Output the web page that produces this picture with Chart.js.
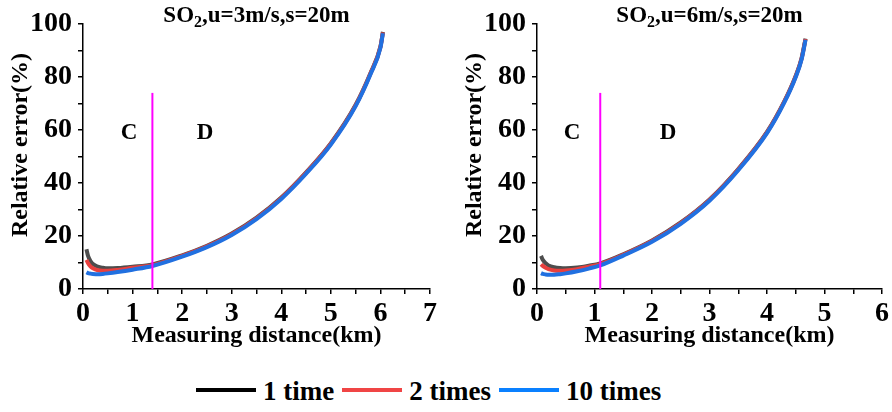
<!DOCTYPE html>
<html>
<head>
<meta charset="utf-8">
<script src="https://cdn.jsdelivr.net/npm/chart.js@4"></script>
<style>
  html, body { margin: 0; padding: 0; background: #fff; }
  body { width: 892px; height: 412px; position: relative; overflow: hidden;
         font-family: "Liberation Serif", "DejaVu Serif", "Noto Serif", serif; }
  .panel { position: absolute; top: 0; width: 446px; height: 350px; }
  #legend { position: absolute; left: 196px; top: 378px; display: flex; align-items: center;
            font-weight: bold; font-size: 27px; line-height: 27px; white-space: nowrap; color: #000; }
  .sw { display: inline-block; width: 60px; height: 4px; transform: translateY(-2px); }
  .lbl { margin: 0 8px 0 7px; }
</style>
</head>
<body>
<div class="panel" style="left:0"><canvas id="leftChart" width="446" height="350"></canvas></div>
<div class="panel" style="left:446px"><canvas id="rightChart" width="446" height="350"></canvas></div>
<div id="legend">
  <span class="sw" style="background:#000"></span><span class="lbl">1 time</span>
  <span class="sw" style="background:#f04545"></span><span class="lbl">2 times</span>
  <span class="sw" style="background:#0a80ff"></span><span class="lbl">10 times</span>
</div>
<script>
// ---- u = 3 m/s ----
const distLeft = [0.07, 0.1, 0.15, 0.2, 0.3, 0.4, 0.5, 0.7, 1.0, 1.4, 2.0, 2.5, 3.0, 3.5, 4.0, 4.5, 5.0, 5.5, 5.8, 6.0, 6.05];
const oneLeft  = [15.0, 12.6, 10.6, 9.4, 8.4, 8.0, 7.8, 7.9, 8.4, 9.3, 12.7, 16.3, 20.9, 26.9, 34.5, 44.0, 55.0, 69.5, 81.5, 91.5, 97.0];
const twoLeft  = [11.0, 9.8, 8.5, 7.8, 7.1, 6.9, 6.9, 7.2, 8.0, 9.0, 12.5, 16.1, 20.7, 26.7, 34.3, 43.8, 54.8, 69.3, 81.3, 91.3, 96.8];
const tenLeft  = [6.3, 6.0, 5.8, 5.7, 5.6, 5.7, 5.9, 6.4, 7.3, 8.7, 12.2, 15.8, 20.4, 26.4, 34.0, 43.5, 54.5, 69.0, 81.0, 91.0, 96.5];

// ---- u = 6 m/s ----
const distRight = [0.07, 0.1, 0.15, 0.2, 0.3, 0.4, 0.5, 0.7, 0.9, 1.1, 1.5, 2.0, 2.5, 3.0, 3.5, 4.0, 4.3, 4.5, 4.6, 4.67];
const oneRight  = [12.5, 11.0, 9.7, 8.9, 8.2, 7.9, 7.8, 8.1, 8.8, 9.7, 13.1, 18.3, 25.1, 33.8, 45.3, 59.3, 70.8, 80.5, 87.0, 94.5];
const twoRight  = [9.3, 8.7, 8.0, 7.5, 7.0, 6.9, 7.0, 7.5, 8.4, 9.4, 12.9, 18.1, 24.9, 33.6, 45.1, 59.1, 70.6, 80.3, 86.8, 94.3];
const tenRight  = [6.0, 5.7, 5.5, 5.4, 5.4, 5.6, 5.9, 6.7, 7.7, 8.9, 12.6, 17.8, 24.6, 33.3, 44.8, 58.8, 70.3, 80.0, 86.5, 94.0];

// region boundary (km) and its drawn height (%)
const boundaryKm = [1.4, 1.1];
const boundaryTop = 74;

// tick labels
const yTickLabels = [0, 20, 40, 60, 80, 100];
const xTickLabelsLeft = [0, 1, 2, 3, 4, 5, 6, 7];
const xTickLabelsRight = [0, 1, 2, 3, 4, 5, 6];

const seriesNames = ['1 time', '2 times', '10 times'];
const seriesColors = ['#4d4d4d', '#e8403e', '#2170e0'];

const FONT = '"Liberation Serif", "DejaVu Serif", "Noto Serif", serif';
const pts = (xs, ys) => xs.map((v, i) => ({ x: v, y: ys[i] }));

// heading, rotated y title and C / D region letters
const panelText = {
  id: 'panelText',
  afterDraw(chart, args, o) {
    const { ctx, chartArea: a, scales: { x, y } } = chart;
    ctx.save();
    ctx.fillStyle = '#000';
    ctx.textAlign = 'left';
    ctx.textBaseline = 'alphabetic';
    const big = 'bold 23px ' + FONT, small = 'bold 16px ' + FONT;
    ctx.font = big;
    const w1 = ctx.measureText(o.head[0]).width, w3 = ctx.measureText(o.head[2]).width;
    ctx.font = small;
    const w2 = ctx.measureText(o.head[1]).width;
    let hx = (a.left + a.right) / 2 - (w1 + w2 + w3) / 2;
    ctx.font = big;   ctx.fillText(o.head[0], hx, 22); hx += w1;
    ctx.font = small; ctx.fillText(o.head[1], hx, 27); hx += w2;
    ctx.font = big;   ctx.fillText(o.head[2], hx, 22);

    ctx.font = 'bold 23px ' + FONT;
    ctx.textAlign = 'center';
    ctx.textBaseline = 'middle';
    o.regions.forEach(r => ctx.fillText(r.text, x.getPixelForValue(r.x), y.getPixelForValue(r.y)));

    ctx.font = 'bold 24px ' + FONT;
    ctx.translate(a.left - 62, 145);
    ctx.rotate(-Math.PI / 2);
    ctx.fillText(o.yTitle, 0, 0);
    ctx.restore();
  }
};

function makePanel(id, cfg) {
  const sets = [cfg.one, cfg.two, cfg.ten].map((ys, i) => ({
    label: seriesNames[i],
    data: pts(cfg.dist, ys),
    borderColor: seriesColors[i],
    borderWidth: 4,
    pointRadius: 0,
    cubicInterpolationMode: 'monotone',
    order: 3 - i
  }));
  sets.push({
    label: 'boundary',
    data: [{ x: cfg.boundary, y: 0 }, { x: cfg.boundary, y: boundaryTop }],
    borderColor: '#ff00ff',
    borderWidth: 2,
    pointRadius: 0,
    order: 0
  });
  const axisLine = { display: true, color: '#000', width: 1.5 };
  const tickGrid = { display: true, drawOnChartArea: false, drawTicks: true, tickLength: 5, color: '#000', lineWidth: 1.5 };
  return new Chart(document.getElementById(id), {
    type: 'line',
    data: { datasets: sets },
    options: {
      responsive: false,
      animation: false,
      devicePixelRatio: 1,
      layout: { padding: { left: 0, right: cfg.padRight, top: 24, bottom: 0 } },
      plugins: {
        legend: { display: false },
        tooltip: { enabled: false },
        panelText: { head: ['SO', '2', cfg.head], yTitle: 'Relative error(%)', regions: cfg.regions }
      },
      scales: {
        x: {
          type: 'linear', min: 0, max: cfg.xMax,
          border: axisLine, grid: tickGrid,
          afterFit: s => { s.height = 61; },
          ticks: {
            stepSize: 0.5, autoSkip: false, maxRotation: 0, padding: 3, color: '#000',
            font: { family: FONT, size: 28, weight: 'bold' },
            callback: v => cfg.xLabels.includes(v) ? String(v) : ''
          },
          title: { display: true, text: 'Measuring distance(km)', color: '#000', padding: 0,
                   font: { family: FONT, size: 24, weight: 'bold' } }
        },
        y: {
          type: 'linear', min: 0, max: 100,
          border: axisLine, grid: tickGrid,
          afterFit: s => { s.width = cfg.yWidth; },
          ticks: {
            stepSize: 10, autoSkip: false, padding: 6, color: '#000',
            font: { family: FONT, size: 28, weight: 'bold' },
            callback: v => yTickLabels.includes(v) ? String(v) : ''
          }
        }
      }
    },
    plugins: [panelText]
  });
}

makePanel('leftChart', {
  dist: distLeft, one: oneLeft, two: twoLeft, ten: tenLeft,
  boundary: boundaryKm[0], xMax: 7, xLabels: xTickLabelsLeft,
  yWidth: 83, padRight: 16, head: ',u=3m/s,s=20m',
  regions: [{ text: 'C', x: 0.93, y: 59 }, { text: 'D', x: 2.46, y: 59 }]
});
makePanel('rightChart', {
  dist: distRight, one: oneRight, two: twoRight, ten: tenRight,
  boundary: boundaryKm[1], xMax: 6, xLabels: xTickLabelsRight,
  yWidth: 91, padRight: 8, head: ',u=6m/s,s=20m',
  regions: [{ text: 'C', x: 0.61, y: 59 }, { text: 'D', x: 2.28, y: 59 }]
});
</script>
</body>
</html>
